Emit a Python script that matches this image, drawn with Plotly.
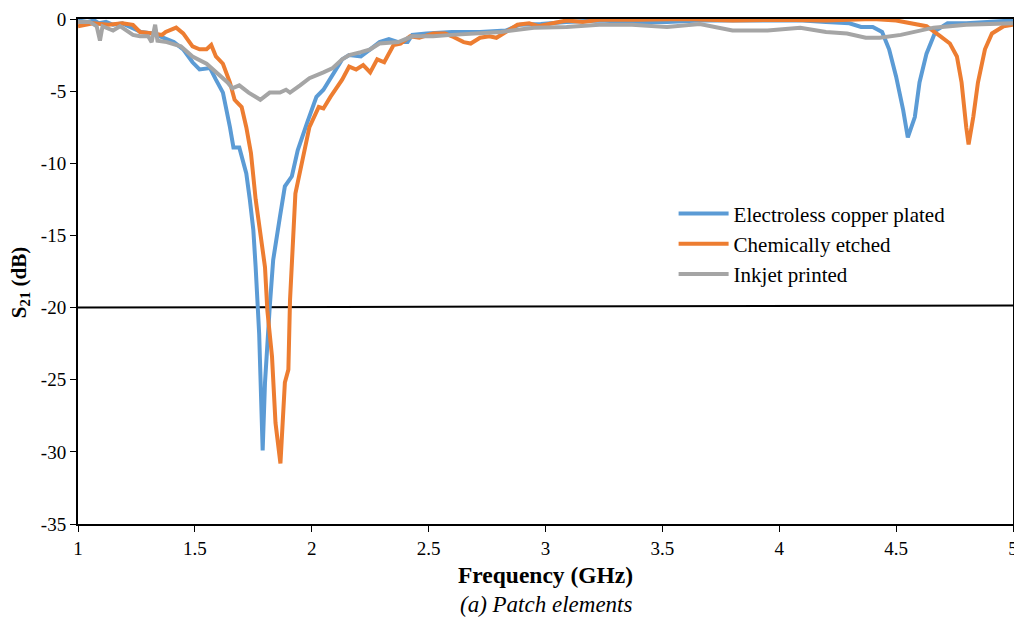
import plotly.graph_objects as go

# frequency (GHz) / S21 (dB)
copper_f = [1.00, 1.04, 1.07, 1.09, 1.12, 1.15, 1.19, 1.22, 1.27, 1.32, 1.36, 1.41, 1.45, 1.49, 1.52,
            1.565, 1.59, 1.62, 1.65, 1.665, 1.69, 1.72, 1.735, 1.75, 1.76, 1.775, 1.79, 1.80, 1.82,
            1.835, 1.864, 1.885, 1.915, 1.94, 1.98, 2.02, 2.05, 2.085, 2.13, 2.16, 2.21, 2.25, 2.29,
            2.33, 2.37, 2.41, 2.43, 2.49, 2.60, 2.72, 2.83, 2.89, 2.98, 3.09, 3.23, 3.37, 3.52, 3.66,
            3.80, 3.95, 4.10, 4.20, 4.30, 4.35, 4.40, 4.44, 4.47, 4.50, 4.53, 4.55, 4.58, 4.60, 4.63,
            4.67, 4.72, 4.80, 4.94, 5.00]
copper_s21 = [-0.1, -0.2, -0.1, -0.3, -0.2, -0.4, -0.3, -0.5, -0.9, -1.0, -1.3, -1.6, -2.1, -3.0, -3.5,
              -3.4, -4.2, -5.1, -7.5, -8.9, -8.9, -10.7, -12.5, -14.6, -17.2, -21.8, -29.9, -25.2, -20.0,
              -16.7, -13.7, -11.6, -10.9, -9.1, -7.2, -5.4, -4.9, -4.0, -2.8, -2.5, -2.6, -2.1, -1.6,
              -1.4, -1.6, -1.6, -1.1, -1.0, -0.9, -0.9, -0.8, -0.4, -0.35, -0.2, -0.1, -0.2, -0.2, -0.1,
              -0.1, -0.15, -0.1, -0.2, -0.3, -0.55, -0.55, -0.9, -2.1, -4.0, -6.3, -8.2, -6.8, -4.4, -2.4,
              -0.8, -0.3, -0.3, -0.2, -0.1]

etched_f = [1.00, 1.065, 1.13, 1.19, 1.235, 1.265, 1.32, 1.36, 1.375, 1.42, 1.45, 1.49, 1.52, 1.55, 1.57,
            1.59, 1.62, 1.65, 1.67, 1.70, 1.72, 1.74, 1.76, 1.77, 1.785, 1.80, 1.81, 1.83, 1.845, 1.866,
            1.885, 1.90, 1.907, 1.92, 1.93, 1.96, 1.99, 2.03, 2.05, 2.08, 2.13, 2.16, 2.19, 2.22, 2.25,
            2.28, 2.31, 2.35, 2.38, 2.42, 2.46, 2.52, 2.57, 2.60, 2.65, 2.68, 2.72, 2.76, 2.79, 2.83,
            2.88, 2.93, 2.97, 3.03, 3.09, 3.16, 3.23, 3.40, 3.60, 3.80, 4.00, 4.20, 4.40, 4.50, 4.57,
            4.63, 4.69, 4.73, 4.76, 4.78, 4.80, 4.81, 4.83, 4.85, 4.88, 4.91, 4.96, 5.00]
etched_s21 = [-0.5, -0.3, -0.4, -0.3, -0.4, -0.9, -1.0, -1.1, -0.9, -0.6, -1.0, -1.9, -2.1, -2.1, -1.8,
              -2.6, -3.1, -4.4, -5.6, -6.1, -7.5, -9.3, -12.5, -13.7, -15.0, -17.2, -20.2, -23.4, -28.0, -30.8,
              -25.2, -24.3, -19.5, -14.8, -12.1, -9.8, -7.5, -6.1, -6.2, -5.4, -4.2, -3.3, -3.5, -3.2, -3.7,
              -2.8, -3.0, -1.8, -1.7, -1.2, -1.3, -1.0, -1.0, -1.2, -1.6, -1.7, -1.3, -1.2, -1.3, -0.9,
              -0.4, -0.3, -0.5, -0.3, -0.1, -0.2, -0.05, -0.05, 0.0, -0.1, -0.05, -0.1, 0.0, -0.1, -0.3,
              -0.5, -1.2, -1.7, -2.6, -4.4, -7.5, -8.7, -6.8, -4.4, -2.1, -1.0, -0.5, -0.4]

inkjet_f = [1.00, 1.05, 1.08, 1.094, 1.105, 1.15, 1.18, 1.215, 1.235, 1.265, 1.30, 1.315, 1.33, 1.34,
            1.38, 1.44, 1.49, 1.55, 1.59, 1.64, 1.66, 1.69, 1.73, 1.78, 1.82, 1.864, 1.89, 1.907, 1.95,
            1.99, 2.05, 2.09, 2.13, 2.16, 2.21, 2.25, 2.29, 2.37, 2.43, 2.52, 2.60, 2.69, 2.81, 2.95,
            3.09, 3.23, 3.37, 3.52, 3.66, 3.80, 3.95, 4.09, 4.20, 4.29, 4.37, 4.43, 4.52, 4.66, 4.80, 5.00]
inkjet_s21 = [-0.2, -0.2, -0.5, -1.5, -0.5, -0.8, -0.5, -0.9, -1.1, -1.2, -1.2, -1.6, -0.4, -1.5,
              -1.6, -1.9, -2.6, -3.1, -3.7, -4.4, -4.8, -4.6, -5.1, -5.6, -5.1, -5.1, -4.9, -5.1, -4.6,
              -4.1, -3.7, -3.4, -2.8, -2.5, -2.3, -2.1, -1.7, -1.6, -1.2, -1.2, -1.1, -1.0, -0.9, -0.6,
              -0.55, -0.4, -0.4, -0.55, -0.35, -0.8, -0.8, -0.6, -0.9, -1.0, -1.3, -1.3, -1.1, -0.6, -0.4, -0.3]

# -20 dB reference line
ref_f = [1.0, 5.0]
ref_s21 = [-20.0, -19.85]

x_ticks = [1, 1.5, 2, 2.5, 3, 3.5, 4, 4.5, 5]
x_labels = ['1', '1.5', '2', '2.5', '3', '3.5', '4', '4.5', '5']
y_ticks = [0, -5, -10, -15, -20, -25, -30, -35]
y_labels = ['0', '-5', '-10', '-15', '-20', '-25', '-30', '-35']

serif = 'Liberation Serif'

fig = go.Figure()
fig.add_trace(go.Scatter(x=ref_f, y=ref_s21, mode='lines', showlegend=False,
                         line=dict(color='black', width=2)))
fig.add_trace(go.Scatter(x=copper_f, y=copper_s21, mode='lines', name='Electroless copper plated',
                         line=dict(color='#5B9BD5', width=4)))
fig.add_trace(go.Scatter(x=etched_f, y=etched_s21, mode='lines', name='Chemically etched',
                         line=dict(color='#ED7D31', width=4)))
fig.add_trace(go.Scatter(x=inkjet_f, y=inkjet_s21, mode='lines', name='Inkjet printed',
                         line=dict(color='#A5A5A5', width=4)))

# the page body has an 8px margin, so the figure is 8px smaller and the left/top margins shifted
fig.update_layout(
    width=1014, height=614,
    margin=dict(l=70, r=9, t=11, b=98),
    plot_bgcolor='white', paper_bgcolor='white',
    font=dict(family=serif, size=19, color='black'),
    legend=dict(x=0.637, y=0.655, xanchor='left', yanchor='top', bgcolor='rgba(0,0,0,0)',
                font=dict(size=21), tracegroupgap=0, itemwidth=50),
    xaxis=dict(range=[1, 5], tickvals=x_ticks, ticktext=x_labels, showgrid=False, zeroline=False,
               showline=True, linecolor='black', linewidth=2, mirror=True, automargin=False,
               ticks='outside', ticklen=6, tickcolor='black'),
    yaxis=dict(range=[-35, 0], tickvals=y_ticks, ticktext=y_labels, showgrid=False, zeroline=False,
               showline=True, linecolor='black', linewidth=2, mirror=True, automargin=False,
               ticks='outside', ticklen=6, tickcolor='black'),
    annotations=[
        dict(text='<b>Frequency (GHz)</b>', xref='paper', yref='paper', x=0.5, y=-0.101,
             xanchor='center', yanchor='middle', showarrow=False, font=dict(size=23.5)),
        dict(text='<i>(a) Patch elements</i>', xref='paper', yref='paper', x=0.5, y=-0.160,
             xanchor='center', yanchor='middle', showarrow=False, font=dict(size=23)),
        dict(text='<b>S<sub>21</sub> (dB)</b>', xref='paper', yref='paper', x=-0.062, y=0.477,
             xanchor='center', yanchor='middle', showarrow=False, textangle=-90, font=dict(size=21)),
    ],
)

fig.write_html("out.html")
